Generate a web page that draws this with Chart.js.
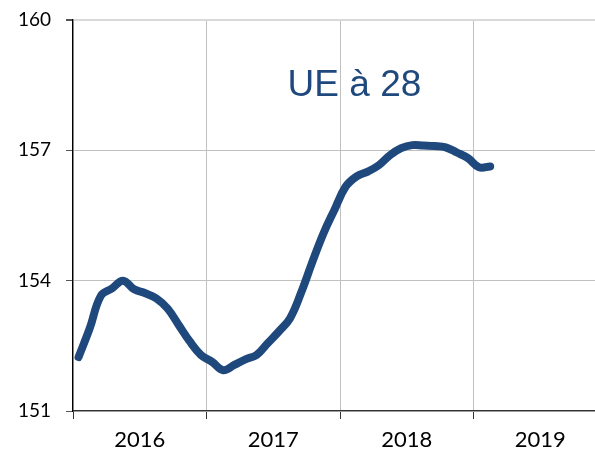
<!DOCTYPE html>
<html lang="fr">
<head>
<meta charset="UTF-8">
<title>UE à 28</title>
<script src="https://cdn.jsdelivr.net/npm/chart.js@4.4.0/dist/chart.umd.min.js"></script>
<style>
  html, body { margin: 0; padding: 0; background: #fff; overflow: hidden; }
  #wrap { width: 595px; height: 452px; }
</style>
</head>
<body>
<div id="wrap"><canvas id="myChart" width="595" height="452"></canvas></div>
<script>
// monthly values, Jan 2016 .. Feb 2019
const values = [
  152.24, 152.90, 153.65, 153.82, 154.00, 153.80, 153.71, 153.59, 153.36, 152.98, 152.60, 152.29,
  152.13, 151.94, 152.06, 152.19, 152.29, 152.56, 152.83, 153.13, 153.72, 154.42, 155.08, 155.63,
  156.16, 156.40, 156.51, 156.66, 156.89, 157.05, 157.12, 157.11, 157.10, 157.07, 156.95, 156.82,
  156.61, 156.63
];
const years = ['2016', '2017', '2018', '2019'];
const yTicks = [151, 154, 157, 160];
const title = 'UE à 28';

const blue = '#1f497d';
const points = values.map((v, i) => ({ x: i + 0.5, y: v }));
const xMax = 46.92; // last year is cut by the right edge

const titlePlugin = {
  id: 'insideTitle',
  afterDraw(chart) {
    const { ctx, scales } = chart;
    ctx.save();
    ctx.font = '37px "Liberation Sans", Arial, sans-serif';
    ctx.fillStyle = blue;
    ctx.textAlign = 'center';
    ctx.textBaseline = 'alphabetic';
    ctx.fillText(title, scales.x.getPixelForValue(25.3), scales.y.getPixelForValue(158.25));
    ctx.restore();
  }
};

const ctx = document.getElementById('myChart').getContext('2d');
new Chart(ctx, {
  type: 'line',
  data: {
    datasets: [{
      data: points,
      borderColor: blue,
      borderWidth: 8,
      borderCapStyle: 'round',
      borderJoinStyle: 'round',
      pointRadius: 0,
      tension: 0.4,
      xAxisID: 'x',
      yAxisID: 'y'
    }]
  },
  options: {
    responsive: false,
    animation: false,
    layout: { padding: { top: 20, left: 0, right: 0, bottom: 0 } },
    plugins: { legend: { display: false }, tooltip: { enabled: false } },
    scales: {
      x: {
        type: 'linear',
        min: 0,
        max: xMax,
        afterBuildTicks: axis => { axis.ticks = years.map((y, i) => ({ value: i * 12 })); },
        afterFit: axis => { axis.height = 8; },
        ticks: { display: false },
        grid: { color: '#c0c0c0', lineWidth: 1, tickLength: 8, tickColor: '#333' },
        border: { color: '#333', width: 1.3 }
      },
      xLabels: {
        type: 'linear',
        position: 'bottom',
        min: 0,
        max: xMax,
        afterBuildTicks: axis => { axis.ticks = years.map((y, i) => ({ value: i * 12 + 6 })); },
        afterFit: axis => { axis.height = 33; },
        ticks: {
          autoSkip: false,
          maxRotation: 0,
          padding: 8,
          color: '#000',
          font: { family: 'Lato', size: 22 },
          callback: v => years[Math.round((v - 6) / 12)]
        },
        grid: { display: false, drawTicks: false },
        border: { display: false }
      },
      y: {
        min: 151,
        max: 160,
        afterBuildTicks: axis => { axis.ticks = yTicks.map(v => ({ value: v })); },
        afterFit: axis => {
          axis.width = 73;
          axis.paddingTop = 0;
          axis.paddingBottom = 0;
        },
        ticks: { color: '#000', padding: 15, font: { family: 'Lato', size: 19 } },
        grid: {
          color: c => c.tick && c.tick.value === 160 ? '#d9d9d9' : '#c0c0c0',
          lineWidth: c => c.tick && c.tick.value === 160 ? 2 : 1,
          tickLength: 7,
          tickColor: '#555'
        },
        border: { color: '#000', width: 1.3 }
      }
    }
  },
  plugins: [titlePlugin]
});
</script>
</body>
</html>
